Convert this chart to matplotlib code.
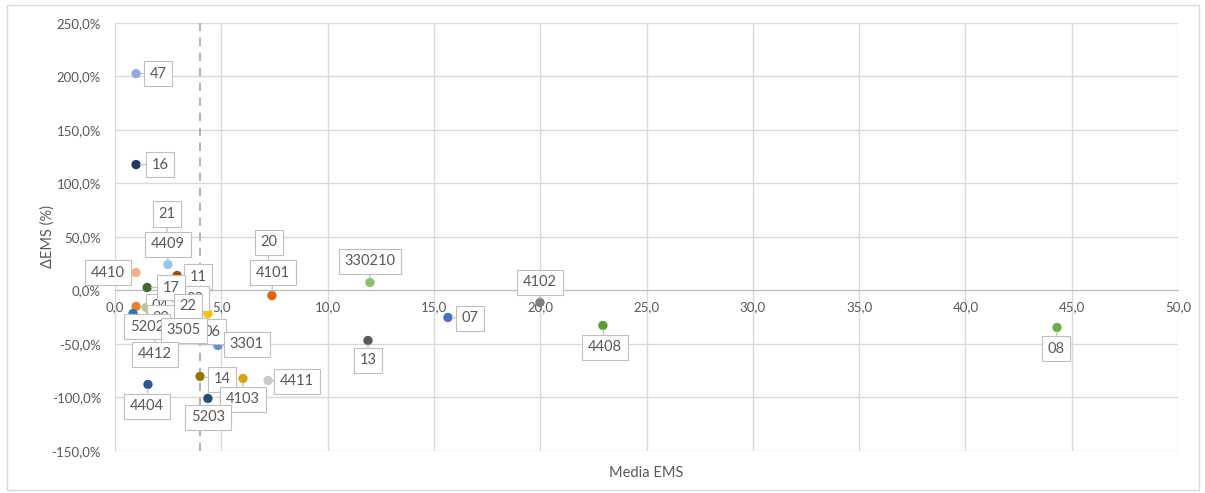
import matplotlib
matplotlib.use("Agg")
import matplotlib.pyplot as plt
from matplotlib.ticker import FuncFormatter, MultipleLocator
from matplotlib.patches import Rectangle

# Data: mean EMS vs. change in EMS (%)
codes = ["47", "16", "21", "4409", "4410", "11", "23", "04", "17", "29",
         "22", "5202", "06", "3505", "4412", "3301", "20", "4101",
         "330210", "13", "07", "4102", "4408", "08",
         "4404", "14", "4103", "4411", "5203"]
media_ems = [0.99, 0.99, 2.45, 2.49, 0.99, 2.92, 3.15, 0.99, 1.51, 1.46,
             2.49, 0.85, 4.37, 2.68, 1.88, 4.84, 7.20, 7.38,
             11.99, 11.90, 15.66, 19.99, 22.95, 44.31,
             1.55, 4.00, 6.02, 7.20, 4.37]
delta_ems = [202.7, 117.7, 48.0, 24.3, 16.8, 14.0, -4.7, -14.9, 2.8, -15.9,
             -9.3, -21.5, -21.5, -25.2, -42.0, -51.4, 21.5, -4.7,
             7.5, -46.7, -25.2, -11.2, -32.7, -34.6,
             -87.8, -80.3, -82.2, -84.1, -100.9]
threshold = 4.0

colors = ["#8FAADC", "#203864", "#5B9BD5", "#9DC3E6", "#F4B183", "#9E480E",
          "#A5A5A5", "#ED7D31", "#43682B", "#A9D18E", "#FFC000", "#2E75B6",
          "#FFC000", "#636363", "#264478", "#698ED0", "#F4B183", "#E0630E",
          "#8CC168", "#595959", "#4472C4", "#7F7F7F", "#5E9A3A", "#70AD47",
          "#2F5597", "#997300", "#D9A30F", "#C9C9C9", "#1F4E79"]

# label offsets in pixels (right, up) for the callouts
offsets = {"47": (22, 0), "16": (24, 0), "21": (0, 25), "4409": (0, 20),
           "4410": (-28, 0), "11": (21, -1), "23": (13, -3), "04": (24, 0),
           "17": (24, 0), "29": (15, -10), "22": (20, -6), "5202": (14, -13),
           "06": (4, -18), "3505": (12, -13), "4412": (0, -19), "3301": (29, 1),
           "20": (1, 25), "4101": (1, 23), "330210": (0, 21), "13": (0, -20),
           "07": (22, -1), "4102": (0, 20), "4408": (2, -22), "08": (-1, -21),
           "4404": (-1, -22), "14": (22, -3), "4103": (0, -21), "4411": (29, -1),
           "5203": (0, -19)}

plt.rcParams['font.family'] = ['Lato', 'DejaVu Sans']
text_color = '#595959'
grid_color = '#D9D9D9'

fig = plt.figure(figsize=(12.05, 4.93), dpi=100)
ax = fig.add_axes([115/1205, 1 - 451/493, (1178-115)/1205, (451-23)/493])

# Outer chart border
fig.patches.append(Rectangle((7/1205, 1 - 490/493), 1192/1205, 485/493,
                             transform=fig.transFigure, fill=False,
                             ec='#D9D9D9', lw=1))

ax.set_xlim(0, 50)
ax.set_ylim(-150, 250)
ax.xaxis.set_major_locator(MultipleLocator(5))
ax.yaxis.set_major_locator(MultipleLocator(50))
ax.xaxis.set_major_formatter(FuncFormatter(lambda v, p: f"{v:.1f}".replace('.', ',')))
ax.yaxis.set_major_formatter(FuncFormatter(lambda v, p: f"{v:.1f}%".replace('.', ',')))
ax.grid(True, color=grid_color, lw=1)
ax.set_axisbelow(True)

for side in ['top', 'right']:
    ax.spines[side].set_visible(False)
ax.spines['bottom'].set_position(('data', 0))
ax.spines['bottom'].set_color('#BFBFBF')
ax.spines['left'].set_color(grid_color)
ax.tick_params(axis='both', length=0, colors=text_color, labelsize=9.5)
ax.tick_params(axis='x', pad=8)
ax.tick_params(axis='y', pad=10)

ax.axvline(threshold, color='#A6A6A6', ls=(0, (5, 4)), lw=1.2, zorder=1)

ax.scatter(media_ems, delta_ems, s=45, c=colors, zorder=3, linewidths=0)

for i, code in enumerate(codes):
    dx, dy = offsets[code]
    ax.annotate(code, (media_ems[i], delta_ems[i]), xytext=(dx, dy),
                textcoords='offset pixels', ha='center', va='center',
                fontsize=10.5, color=text_color, zorder=10 + i,
                bbox=dict(boxstyle='square,pad=0.4', fc='white',
                          ec='#BFBFBF', lw=0.8),
                arrowprops=dict(arrowstyle='-', color='#BFBFBF', lw=0.9,
                                shrinkA=0, shrinkB=3))

ax.set_xlabel('Media EMS', color=text_color, fontsize=10.5, labelpad=0)
ax.xaxis.set_label_coords(0.5, -0.035)
ax.set_ylabel('ΔEMS (%)', color=text_color, fontsize=10.5)
ax.yaxis.set_label_coords(-0.057, 0.5)

fig.savefig('out.png', dpi=100)
